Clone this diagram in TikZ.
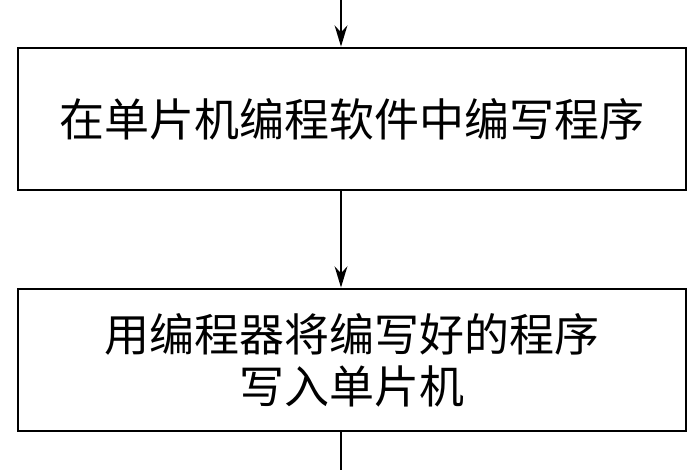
\documentclass[tikz,border=0pt]{standalone}
\usepackage{fontspec}
\newfontfamily\cjk{Noto Sans CJK SC}
\usetikzlibrary{arrows.meta,positioning}
\tikzset{>={Stealth[length=30pt,width=18pt]},
  stepbox/.style={draw,line width=4pt,minimum width=33.4cm,minimum height=7.1cm,
    align=center,font=\cjk\fontsize{64}{74}\selectfont},
  flow/.style={->,line width=4pt}}
\begin{document}
\begin{tikzpicture}[x=0.05cm,y=-0.05cm]
      \useasboundingbox (0,0) rectangle (700,470);
      \coordinate (top) at (341,0);
      \coordinate (bottom) at (341,470);
      \node[stepbox] (write) at (352,119) {在单片机编程软件中编写程序};
      \node[stepbox] (burn) at (352,360) {用编程器将编写好的程序\\写入单片机};
      \draw[flow] (top) -- (top |- write.north);
      \draw[flow] (write.south -| top) -- (burn.north -| top);
      \draw[line width=4pt] (burn.south -| top) -- (bottom);
\end{tikzpicture}
\end{document}
